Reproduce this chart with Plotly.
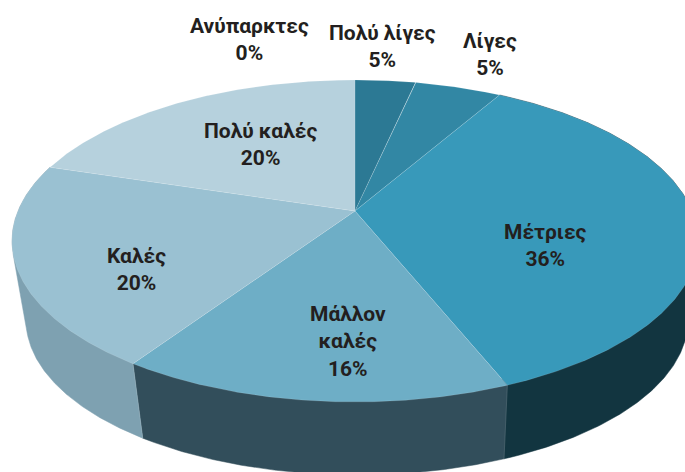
import numpy as np
import plotly.graph_objects as go

categories = ["Ανύπαρκτες", "Πολύ λίγες", "Λίγες", "Μέτριες", "Μάλλον<br>καλές", "Καλές", "Πολύ καλές"]
shown_percent = [0, 5, 5, 36, 16, 20, 20]
drawn_share = [0.0, 3.4, 4.9, 35.6, 15.5, 20.4, 20.2]
top_colors = ["#2c7994", "#2c7994", "#3287a4", "#3899ba", "#6eaec6", "#9ac1d2", "#b6d1dd"]
wall_colors = [None, None, None, "#123540", "#324e5b", "#7ea1b1", None]
label_x = [249, 382, 490, 545, 348, 136, 260]
label_y = [39, 46, 54, 245, 341, 269, 144]

W, H = 685, 472
CX, CY, RX, RY, APEX_Y = 355, 241, 343, 161, 211
BX, BY, BRX, BRY = 357, 320, 331, 155
k = (CY - APEX_Y) / RY
A = RX * np.sqrt(1 - k * k)


def rim(theta):
    """Perspective view of a circular disc, theta clockwise from 12 o'clock."""
    x, y = np.sin(theta), np.cos(theta)
    w = 1 + k * y
    return A * x / w, (-RY * y - (CY - APEX_Y)) / w


def hull(xs, ys):
    """Convex outline of the swept wall (monotone chain)."""
    pts = sorted(set(zip(xs.tolist(), ys.tolist())))

    def half(points):
        out = []
        for p in points:
            while len(out) > 1 and (out[-1][0] - out[-2][0]) * (p[1] - out[-2][1]) - (out[-1][1] - out[-2][1]) * (p[0] - out[-2][0]) <= 0:
                out.pop()
            out.append(p)
        return out[:-1]

    ring = half(pts) + half(pts[::-1])
    ring.append(ring[0])
    return [p[0] for p in ring], [p[1] for p in ring]


fig = go.Figure()
edges = 2 * np.pi * np.cumsum([0] + drawn_share) / sum(drawn_share)
sep = dict(color="rgba(255,255,255,0.2)", width=0.6)

# side walls first, so the top surface hides whatever lies behind it
for i, c in enumerate(wall_colors):
    if c is None:
        continue
    t = np.linspace(edges[i], edges[i + 1], 200)
    X, Y = rim(t)
    xt, yt = CX + X, CY + Y
    xb, yb = BX + X * BRX / RX, BY + Y * BRY / RY
    hx, hy = hull(np.r_[xt, xb], np.r_[yt, yb])
    fig.add_trace(go.Scatter(
        x=hx, y=hy, mode="lines", fill="toself", fillcolor=c, line=dict(color=c, width=0.5),
        hoverinfo="skip", showlegend=False))
    # light seam at the wall's starting edge
    fig.add_trace(go.Scatter(x=[xt[0], xb[0]], y=[yt[0], yb[0]], mode="lines", line=sep,
                             hoverinfo="skip", showlegend=False))

for i, c in enumerate(top_colors):
    if drawn_share[i] == 0:
        continue
    t = np.linspace(edges[i], edges[i + 1], 200)
    X, Y = rim(t)
    fig.add_trace(go.Scatter(
        x=np.r_[CX, CX + X, CX], y=np.r_[APEX_Y, CY + Y, APEX_Y],
        mode="lines", fill="toself", fillcolor=c, line=sep,
        hoverinfo="skip", showlegend=False))

for name, pct, lx, ly in zip(categories, shown_percent, label_x, label_y):
    fig.add_annotation(x=lx, y=ly, text=f"{name}<br>{pct}%", showarrow=False,
                       font=dict(family="Roboto", size=21, color="#231f20", weight=700),
                       align="center", xanchor="center", yanchor="middle")

fig.update_layout(
    width=W, height=H, margin=dict(l=0, r=0, t=0, b=0),
    paper_bgcolor="white", plot_bgcolor="white", showlegend=False,
    xaxis=dict(range=[0, W], visible=False, fixedrange=True),
    yaxis=dict(range=[H, 0], visible=False, fixedrange=True),
)
fig.write_html("out.html", config=dict(displayModeBar=False),
               post_script="document.body.style.margin='0';document.body.style.overflow='hidden';")
